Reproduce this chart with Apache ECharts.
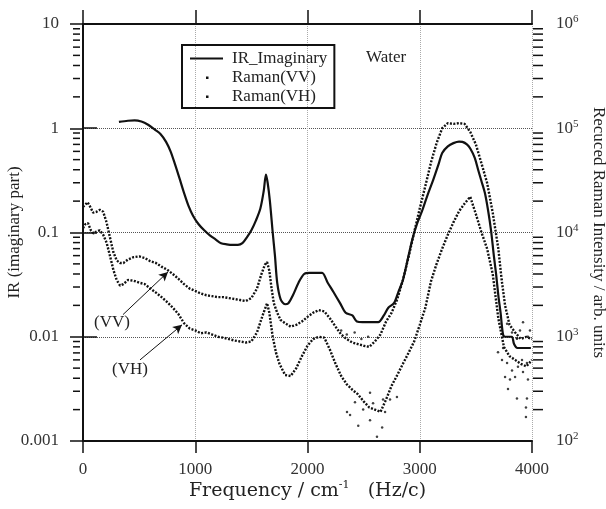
<!DOCTYPE html>
<html>
<head>
<meta charset="utf-8">
<script src="https://cdn.jsdelivr.net/npm/echarts@6/dist/echarts.min.js"></script>
<style>html,body{margin:0;padding:0;background:#fff}#c{width:606px;height:509px}</style>
</head>
<body>
<div id="c"></div>
<script>
// ---- data ----
// IR imaginary part (left axis)
const irFreq = [320,400,460,520,580,640,690,740,780,820,860,900,940,980,1030,1080,1130,1180,1230,1280,1330,1380,1420,1460,1500,1540,1580,1610,1630,1645,1665,1690,1710,1730,1760,1800,1830,1870,1920,1970,2020,2080,2130,2180,2230,2290,2340,2400,2440,2490,2560,2630,2680,2720,2770,2810,2850,2900,2940,2980,3020,3070,3120,3170,3200,3250,3300,3350,3380,3420,3450,3490,3520,3550,3580,3610,3635,3660,3680,3700,3720,3742,3760,3820,3840,3870,3990];
const irValue = [1.15,1.18,1.19,1.16,1.08,0.97,0.88,0.74,0.6,0.45,0.33,0.24,0.18,0.145,0.12,0.105,0.094,0.086,0.079,0.077,0.076,0.076,0.079,0.09,0.105,0.13,0.17,0.25,0.36,0.3,0.2,0.1,0.06,0.033,0.023,0.0205,0.021,0.025,0.033,0.04,0.041,0.041,0.041,0.033,0.027,0.021,0.017,0.016,0.014,0.0138,0.0138,0.0138,0.016,0.019,0.021,0.027,0.035,0.06,0.091,0.125,0.16,0.23,0.32,0.46,0.58,0.67,0.72,0.745,0.74,0.7,0.64,0.52,0.4,0.31,0.24,0.16,0.105,0.06,0.04,0.025,0.017,0.0105,0.01,0.01,0.0085,0.0078,0.0078];
// Raman VV (right axis, arb. units)
const vvFreq = [0,20,40,60,90,120,150,180,210,240,270,300,330,360,400,450,500,550,600,650,700,750,800,850,900,950,1000,1050,1100,1150,1200,1250,1300,1350,1400,1450,1500,1550,1590,1620,1640,1660,1680,1700,1730,1760,1800,1850,1900,1950,2000,2050,2100,2150,2200,2250,2300,2350,2400,2450,2500,2550,2600,2650,2700,2750,2800,2850,2900,2950,3000,3050,3100,3150,3200,3250,3300,3350,3400,3450,3500,3550,3600,3650,3700,3730,3760,3800,3850,3900,3950,4000];
const vvValue = [17600,18500,19500,18000,15500,15800,16500,15800,12500,9000,6500,5400,5100,5100,5500,5800,5900,5700,5300,5100,4700,4400,4000,3600,3200,2900,2750,2600,2500,2450,2400,2400,2350,2300,2250,2200,2350,2900,4000,4900,5200,4300,2900,2100,1700,1450,1350,1250,1300,1400,1550,1700,1800,1750,1500,1250,1050,950,880,850,820,800,900,1050,1400,1700,2300,3500,5800,10000,17000,28000,47000,72000,100000,112000,110000,112000,110000,92000,70000,46000,30000,15500,7000,3500,2000,1300,1100,950,1000,950];
// Raman VH (right axis, arb. units)
const vhFreq = [0,20,45,70,95,120,150,180,210,240,270,300,330,360,400,450,500,550,600,650,700,750,800,850,900,950,1000,1050,1100,1150,1200,1250,1300,1350,1400,1450,1500,1550,1600,1640,1660,1690,1720,1750,1800,1850,1900,1950,2000,2050,2100,2150,2200,2250,2300,2350,2400,2450,2500,2550,2600,2650,2700,2750,2800,2850,2900,2950,3000,3050,3100,3150,3200,3250,3300,3350,3400,3450,3500,3550,3600,3650,3700,3750,3800,3850,3900,3950,4000];
const vhValue = [11000,12000,12300,10500,9800,10200,10500,9500,8000,6000,4400,3500,3100,3200,3500,3450,3300,3200,2900,2650,2400,2150,1900,1650,1350,1200,1150,1080,1100,1050,1000,980,950,920,900,880,900,1100,1600,2100,1700,1000,700,550,430,420,500,650,820,950,1000,980,750,550,420,350,310,280,240,210,200,190,250,340,430,550,700,900,1300,1900,3400,5000,7000,9500,12500,16000,19000,22000,15000,10000,7000,4000,1500,800,650,600,550,520,600];
// scattered Raman points (right axis)
const scatFreq = [2352,2379,2423,2452,2496,2557,2557,2584,2619,2665,2673,2691,2735,2797,2300,2350,2420,2480,2540,3697,3733,3742,3760,3778,3786,3804,3822,3849,3866,3866,3875,3911,3920,3946,3946,3955,3955,3964,3778,3822,3866,3893,3920,3964,3982];
const scatValue = [190,178,235,140,200,158,290,230,110,135,250,190,250,265,1150,1050,1100,950,1000,710,600,780,410,560,315,390,475,410,255,960,515,600,460,170,210,560,255,390,1330,1100,960,1150,1380,1000,1150];
// annotations
const annoName = ['(VV)','(VH)'];
const annoLabelPos = [[258,0.0136],[419,0.0048]];
const annoArrowFrom = [[356,0.0163],[508,0.0060]];
const annoArrowTo = [[757,0.0418],[882,0.0130]];
// axes
const leftTickLabels = {'-3':'0.001','-2':'0.01','-1':'0.1','0':'1','1':'10'};
const minorDecades = [0.001,0.01,0.1,1];
const minorMult = [2,3,4,5,6,7,8,9];

const minorVals = [];
minorDecades.forEach(d => minorMult.forEach(m => minorVals.push([0, d*m])));

const serif = 'Liberation Serif';
const chart = echarts.init(document.getElementById('c'), null, {renderer:'canvas'});
const black = '#111';

const lineIcon = 'path://M0,0h0.01v0.01h-0.01zM0,3h33v2h-33zM37,8h-0.01v-0.01h0.01z';
const dotIcon = 'path://M0,0h0.01v0.01h-0.01zM16,3h2.5v2.5h-2.5zM37,8h-0.01v-0.01h0.01z';

chart.setOption({
  animation:false,
  backgroundColor:'#fff',
  grid:{left:83, right:74, top:24, bottom:68, containLabel:false, outerBoundsMode:'none'},
  legend:{
    orient:'vertical', left:182, top:45,
    padding:[5,7,3,8], itemGap:2, itemWidth:37, itemHeight:8,
    borderColor:black, borderWidth:2,
    textStyle:{fontFamily:serif, fontSize:17, color:'#222', lineHeight:17},
    data:[{name:'IR_Imaginary', icon:lineIcon},{name:'Raman(VV)', icon:dotIcon},{name:'Raman(VH)', icon:dotIcon}]
  },
  graphic:[{type:'text', left:366, top:49, style:{text:'Water', font:'17px "Liberation Serif"', fill:'#222'}}],
  xAxis:[{
    type:'value', min:0, max:4000, interval:1000, position:'bottom',
    name:'Frequency / cm{sup|-1}   (Hz/c)', nameLocation:'middle', nameGap:39, nameMoveOverlap:false,
    nameTextStyle:{fontFamily:'DejaVu Serif', fontSize:19, color:'#222',
      rich:{sup:{fontFamily:'DejaVu Serif', fontSize:11, verticalAlign:'top', padding:[0,0,11,0], color:'#222'}}},
    axisLine:{lineStyle:{color:black, width:2}},
    axisTick:{show:true, inside:false, length:12, lineStyle:{color:black, width:1.5}},
    axisLabel:{fontFamily:serif, fontSize:17, color:'#333', margin:20, formatter:v => String(v)},
    splitLine:{show:true, lineStyle:{color:'#aaa', type:'dotted', width:1}}
  },{
    type:'value', min:0, max:4000, interval:1000, position:'top',
    axisLine:{lineStyle:{color:black, width:2}},
    axisTick:{show:true, inside:false, length:14, lineStyle:{color:black, width:1.5}},
    axisLabel:{show:false}, splitLine:{show:false}
  }],
  yAxis:[{
    type:'log', logBase:10, min:0.001, max:10, position:'left', offset:3,
    name:'IR (imaginary part)', nameLocation:'middle', nameGap:57, nameMoveOverlap:false,
    nameTextStyle:{fontFamily:serif, fontSize:17, color:'#222'},
    axisLine:{show:true, lineStyle:{color:black, width:2}},
    axisTick:{show:true, inside:false, length:13, lineStyle:{color:black, width:1.5}},
    axisLabel:{fontFamily:serif, fontSize:17, color:'#333', margin:21,
      formatter:v => leftTickLabels[String(Math.round(Math.log10(v)))]},
    splitLine:{show:true, lineStyle:{color:'#555', type:'dotted', width:1}}
  },{
    type:'log', logBase:10, min:100, max:1000000, position:'right', offset:1,
    name:'Recuced Raman Intensity / arb. units', nameLocation:'middle', nameGap:57, nameRotate:-90, nameMoveOverlap:false,
    nameTextStyle:{fontFamily:serif, fontSize:17, color:'#222'},
    axisLine:{show:true, lineStyle:{color:black, width:2}},
    axisTick:{show:true, inside:false, length:14, lineStyle:{color:black, width:1.5}},
    axisLabel:{fontFamily:serif, fontSize:17, color:'#333', margin:23,
      formatter:v => '{b|10}{s|' + Math.round(Math.log10(v)) + '}',
      rich:{b:{fontFamily:serif, fontSize:17, color:'#333'}, s:{fontFamily:serif, fontSize:11, color:'#333', verticalAlign:'top', padding:[0,0,9,0]}}},
    splitLine:{show:false}
  }],
  series:[
    {
      name:'IR_Imaginary', type:'line', xAxisIndex:0, yAxisIndex:0,
      data:irFreq.map((f,i)=>[f, irValue[i]]),
      showSymbol:false, smooth:0.3, lineStyle:{color:black, width:2.2}, itemStyle:{color:black}, z:5,
      markLine:{silent:true, symbol:['none','arrow'], symbolSize:[7,9], label:{show:false},
        lineStyle:{color:black, width:1, type:'solid'},
        data:annoArrowFrom.map((a,i)=>[{coord:a},{coord:annoArrowTo[i]}])},
      markPoint:{silent:true, symbol:'circle', symbolSize:0,
        label:{show:true, position:'inside', fontFamily:serif, fontSize:17, color:'#222', formatter:p=>p.name},
        data:annoName.map((n,i)=>({name:n, coord:annoLabelPos[i]}))}
    },
    {
      name:'Raman(VV)', type:'line', xAxisIndex:0, yAxisIndex:1,
      data:vvFreq.map((f,i)=>[f, vvValue[i]]),
      showSymbol:false, lineStyle:{color:black, width:2.4, type:[2,1.5]}, itemStyle:{color:black}, z:4
    },
    {
      name:'Raman(VH)', type:'line', xAxisIndex:0, yAxisIndex:1,
      data:vhFreq.map((f,i)=>[f, vhValue[i]]),
      showSymbol:false, lineStyle:{color:black, width:2.4, type:[2,1.5]}, itemStyle:{color:black}, z:4
    },
    {
      name:'scatter', type:'scatter', xAxisIndex:0, yAxisIndex:1,
      data:scatFreq.map((f,i)=>[f, scatValue[i]]),
      symbolSize:2.5, itemStyle:{color:black}, z:4, silent:true
    },
    {
      name:'minorTicks', type:'custom', xAxisIndex:0, yAxisIndex:0, data:minorVals, clip:false, silent:true, z:10,
      renderItem:(params, api) => {
        const p = api.coord([0, api.value(1)]);
        const cs = params.coordSys;
        const lx = cs.x - 3, rx = cs.x + cs.width + 1;
        return {type:'group', children:[
          {type:'line', shape:{x1:lx-7, y1:p[1], x2:lx, y2:p[1]}, style:{stroke:black, lineWidth:1.5}},
          {type:'line', shape:{x1:rx, y1:p[1], x2:rx+10, y2:p[1]}, style:{stroke:black, lineWidth:1.5}}
        ]};
      }
    }
  ]
});
</script>
</body>
</html>
